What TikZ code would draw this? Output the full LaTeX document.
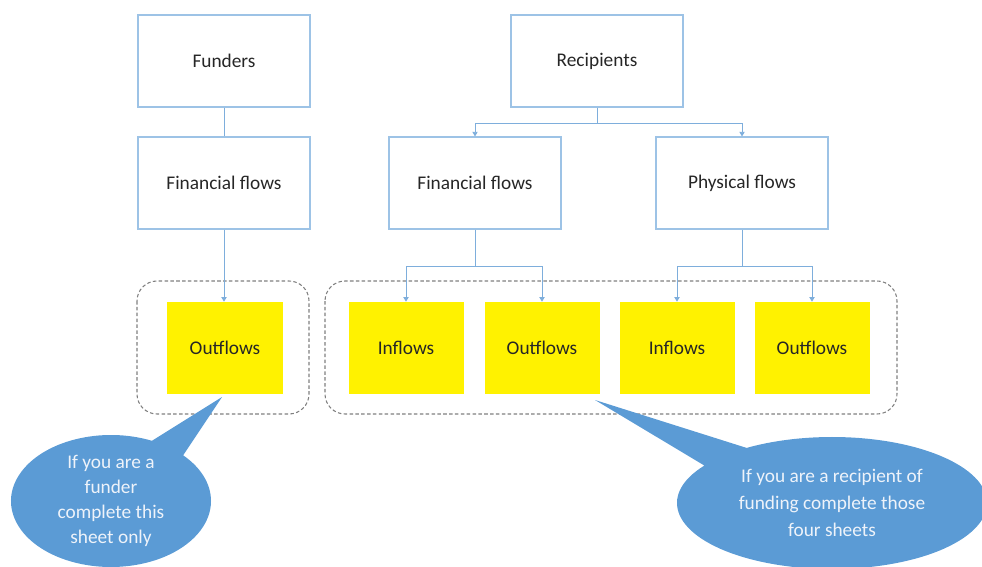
\documentclass[tikz,border=0pt]{standalone}
\usepackage{fontspec}
\setmainfont{Carlito}
\usetikzlibrary{arrows.meta,shapes.callouts}
\definecolor{boxline}{HTML}{9DC3E6}
\definecolor{linkblue}{HTML}{7EAEDC}
\definecolor{bubbleblue}{HTML}{5B9BD5}
\definecolor{labelgray}{HTML}{262626}
\definecolor{bubbletext}{HTML}{EEF3FA}
\tikzset{
  boxfont/.style={font=\fontsize{16.5}{20}\selectfont},
  flowbox/.style={draw=boxline, line width=0.9pt, minimum width=5.16cm,
    minimum height=2.76cm, text=labelgray, boxfont},
  sheetbox/.style={fill=yellow, minimum width=3.45cm, minimum height=2.76cm,
    text=labelgray, boxfont},
  group/.style={draw=gray, line width=0.9pt, dash pattern=on 3pt off 2pt,
    rounded corners=0.6cm},
  link/.style={draw=linkblue, line width=0.8pt},
  linkarrow/.style={link, -{Triangle[length=4pt,width=4.5pt]}},
  bubble/.style={ellipse callout, fill=bubbleblue, text=bubbletext,
    align=center, callout pointer arc=22, inner sep=0pt}
}
\begin{document}
\begin{tikzpicture}[x=0.03cm, y=-0.03cm]
  \useasboundingbox (0,0) rectangle (982,567);
  \clip (0,0) rectangle (982,567);
  % funder side
  \node[flowbox] (funders) at (224,61) {Funders};
  \node[flowbox] (finL) at (224,183) {Financial flows};
  \node[sheetbox] (outL) at (225,348) {Outflows};
  % recipient side
  \node[flowbox] (recip) at (597,61) {Recipients};
  \node[flowbox] (finM) at (475,183) {Financial flows};
  \node[flowbox] (phys) at (742,183) {Physical flows};
  \node[sheetbox] (inM) at (406,348) {Inflows};
  \node[sheetbox] (outM) at (542,348) {Outflows};
  \node[sheetbox] (inP) at (677,348) {Inflows};
  \node[sheetbox] (outP) at (812,348) {Outflows};
  % dashed groups
  \draw[group] (137,281) rectangle (309,414);
  \draw[group] (325,281) rectangle (897,414);
  % connectors
  \draw[link] (funders) -- (finL);
  \draw[linkarrow] (finL.south) -- (finL.south |- outL.north);
  \draw[link] (recip.south) -- ++(0,16) coordinate (recipJ);
  \draw[linkarrow] (recipJ) -| (finM.north);
  \draw[linkarrow] (recipJ) -| (phys.north);
  \draw[link] (finM.south) -- ++(0,37) coordinate (finJ);
  \draw[linkarrow] (finJ) -| (inM.north);
  \draw[linkarrow] (finJ) -| (outM.north);
  \draw[link] (phys.south) -- ++(0,37) coordinate (physJ);
  \draw[linkarrow] (physJ) -| (inP.north);
  \draw[linkarrow] (physJ) -| (outP.north);
  % callouts
  \coordinate (tipL) at (222,397);
  \coordinate (tipR) at (595,400);
  \node[bubble, minimum width=6cm, minimum height=3.96cm,
    font=\fontsize{16.5}{21.3}\selectfont, callout absolute pointer=(tipL)]
    (helpL) at (111,501) {If you are a\\funder\\complete this\\sheet only};
  \node[bubble, minimum width=9.3cm, minimum height=3.96cm,
    font=\fontsize{16.5}{23}\selectfont, callout absolute pointer=(tipR)]
    (helpR) at (832,503) {If you are a recipient of\\funding complete those\\four sheets};
\end{tikzpicture}
\end{document}
